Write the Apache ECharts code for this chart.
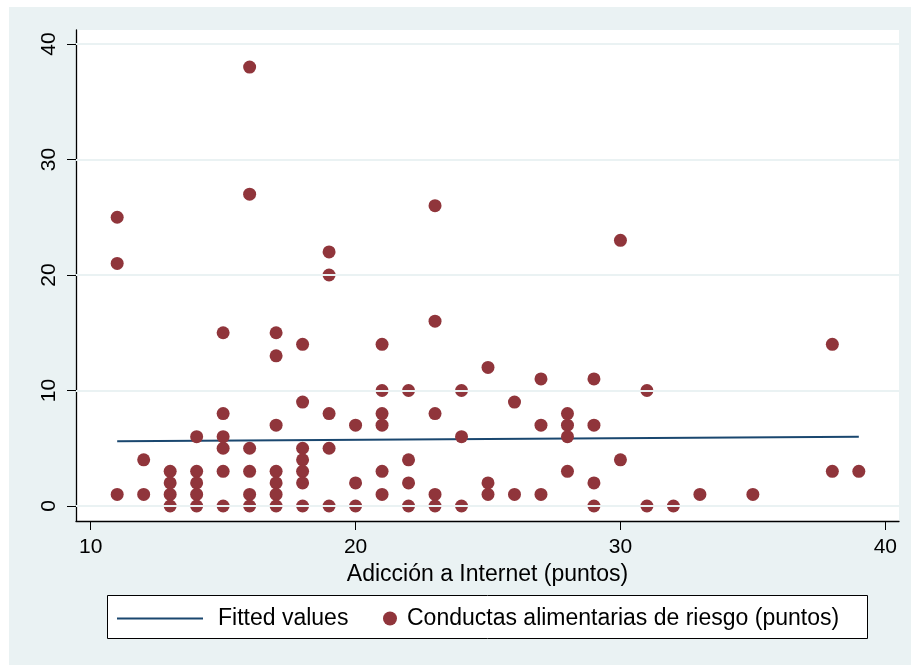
<!DOCTYPE html>
<html>
<head>
<meta charset="utf-8">
<script src="https://cdn.jsdelivr.net/npm/echarts@6/dist/echarts.min.js"></script>
<style>
html, body { margin: 0; padding: 0; background: #fff; }
#chart { width: 911px; height: 666px; }
</style>
</head>
<body>
<div id="chart"></div>
<script>
// Adicción a Internet (x) y conductas alimentarias de riesgo (y)
var adiccion = [
	11, 11, 11,
	12, 12,
	13, 13, 13, 13,
	14, 14, 14, 14, 14,
	15, 15, 15, 15, 15, 15,
	16, 16, 16, 16, 16, 16,
	17, 17, 17, 17, 17, 17, 17,
	18, 18, 18, 18, 18, 18, 18,
	19, 19, 19, 19, 19,
	20, 20, 20,
	21, 21, 21, 21, 21, 21,
	22, 22, 22, 22,
	23, 23, 23, 23, 23,
	24, 24, 24,
	25, 25, 25,
	26, 26,
	27, 27, 27,
	28, 28, 28, 28,
	29, 29, 29, 29,
	30, 30,
	31, 31,
	32,
	33,
	35,
	38, 38,
	39
];
var conductas = [
	25, 21, 1,
	4, 1,
	3, 2, 1, 0,
	6, 3, 2, 1, 0,
	15, 8, 6, 5, 3, 0,
	38, 27, 5, 3, 1, 0,
	15, 13, 7, 3, 2, 1, 0,
	14, 9, 5, 4, 3, 2, 0,
	22, 20, 8, 5, 0,
	7, 2, 0,
	14, 10, 8, 7, 3, 1,
	10, 4, 2, 0,
	26, 16, 8, 1, 0,
	10, 6, 0,
	12, 2, 1,
	9, 1,
	11, 7, 1,
	8, 7, 6, 3,
	11, 7, 2, 0,
	23, 4,
	10, 0,
	0,
	1,
	1,
	14, 3,
	3
];
// Fitted values (extremos de la recta)
var fitX = [11, 39];
var fitY = [5.6, 6.0];
// Marcas de los ejes
var xTicks = [10, 20, 30, 40];
var yTicks = [0, 10, 20, 30, 40];

var FONT = "'Liberation Sans', Arial, sans-serif";
var myChart;

$ready();
function $ready() {
	myChart = echarts.init(document.getElementById('chart'), null, { renderer: 'canvas' });
	chartSetting();
}

function chartSetting() {
	var points = [];
	for (var i = 0; i < adiccion.length; i++) {
		points.push([adiccion[i], conductas[i]]);
	}
	var fitted = [];
	for (var j = 0; j < fitX.length; j++) {
		fitted.push([fitX[j], fitY[j]]);
	}
	var gridLines = [];
	for (var k = 0; k < yTicks.length; k++) {
		gridLines.push({ yAxis: yTicks[k] });
	}
	var option = {
		backgroundColor: '#fff',
		animation: false,
		graphic: [{
			type: 'rect',
			z: -10,
			shape: { x: 9, y: 7, width: 902, height: 658 },
			style: { fill: '#EAF2F3' }
		}, {
			type: 'rect',
			z: 1,
			shape: { x: 107.5, y: 595.5, width: 760, height: 43 },
			style: { fill: '#fff', stroke: '#000', lineWidth: 1 }
		}],
		grid: {
			left: 76,
			top: 30,
			right: 12,
			bottom: 145,
			show: true,
			backgroundColor: '#fff',
			borderWidth: 0
		},
		legend: [{
			data: [{ name: 'Fitted values', icon: 'rect' }],
			left: 117,
			top: 607,
			z: 10,
			padding: 0,
			itemWidth: 86,
			itemHeight: 2,
			itemStyle: { color: '#1A476F' },
			textStyle: { fontFamily: FONT, fontSize: 23, color: '#000', padding: [0, 0, 0, 10] }
		}, {
			data: ['Conductas alimentarias de riesgo (puntos)'],
			left: 383,
			top: 607,
			z: 10,
			padding: 0,
			itemWidth: 14,
			itemHeight: 14,
			textStyle: { fontFamily: FONT, fontSize: 23, color: '#000', padding: [0, 0, 0, 5] }
		}],
		xAxis: {
			type: 'value',
			min: 9.445,
			max: 40.517,
			name: 'Adicción a Internet (puntos)',
			nameLocation: 'middle',
			nameGap: 37,
			nameTextStyle: { fontFamily: FONT, fontSize: 23, color: '#000' },
			axisLine: { onZero: false, lineStyle: { color: '#000', width: 1.3 } },
			axisTick: { show: true, length: 9, customValues: xTicks, lineStyle: { color: '#000', width: 1 } },
			axisLabel: { customValues: xTicks, margin: 16, fontFamily: FONT, fontSize: 21, color: '#000' },
			splitLine: { show: false }
		},
		yAxis: {
			type: 'value',
			min: -1.3,
			max: 41.21,
			axisLine: { show: true, onZero: false, lineStyle: { color: '#000', width: 1.3 } },
			axisTick: { show: true, length: 9, customValues: yTicks, lineStyle: { color: '#000', width: 1 } },
			axisLabel: { customValues: yTicks, rotate: 90, margin: 16, fontFamily: FONT, fontSize: 21, color: '#000' },
			splitLine: { show: false }
		},
		series: [{
			name: 'grid',
			type: 'line',
			data: [],
			silent: true,
			z: 1,
			markLine: {
				silent: true,
				symbol: ['none', 'none'],
				label: { show: false },
				lineStyle: { color: '#EAF2F3', width: 2, type: 'solid' },
				data: gridLines
			}
		}, {
			name: 'Fitted values',
			type: 'line',
			data: fitted,
			symbol: 'none',
			z: 2,
			lineStyle: { color: '#1A476F', width: 2 },
			itemStyle: { color: '#1A476F' }
		}, {
			name: 'Conductas alimentarias de riesgo (puntos)',
			type: 'scatter',
			data: points,
			symbol: 'circle',
			symbolSize: 13,
			z: 3,
			itemStyle: { color: '#90353B', opacity: 1 }
		}]
	};
	myChart.setOption(option);
}
</script>
</body>
</html>
